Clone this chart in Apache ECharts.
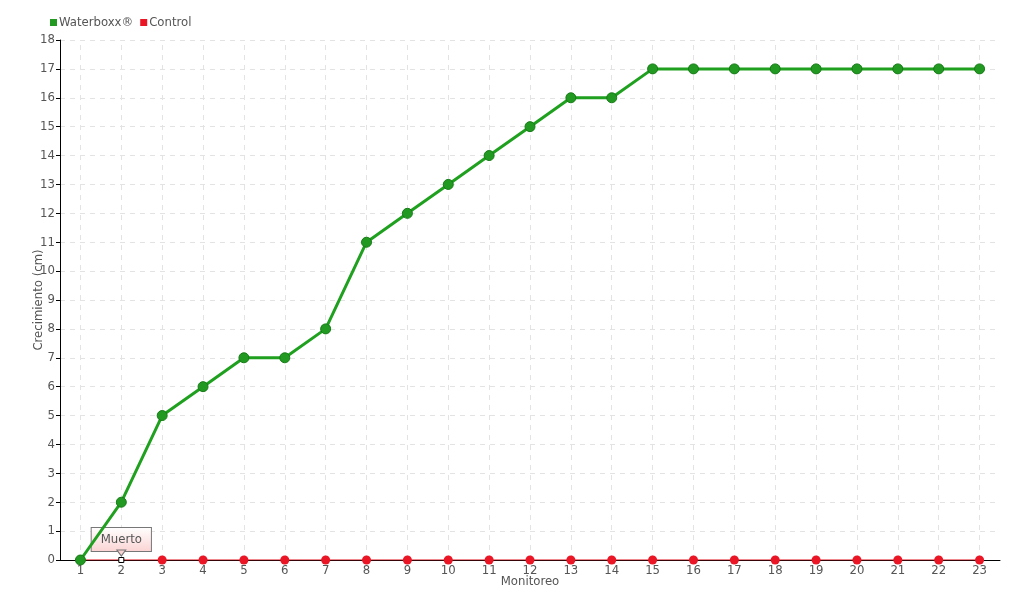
<!DOCTYPE html>
<html><head><meta charset="utf-8">
<script src="https://cdn.jsdelivr.net/npm/echarts@6/dist/echarts.min.js"></script>
<style>html,body{margin:0;padding:0;background:#fff}#c{width:1020px;height:600px}</style>
</head><body><div id="c"></div>
<script>
const categories = ['1','2','3','4','5','6','7','8','9','10','11','12','13','14','15','16','17','18','19','20','21','22','23'];
const waterboxx = [0,2,5,6,7,7,8,11,12,13,14,15,16,16,17,17,17,17,17,17,17,17,17];
const control = [0,0,0,0,0,0,0,0,0,0,0,0,0,0,0,0,0,0,0,0,0,0,0];
const annotationIndex = 1;
const annotationText = 'Muerto';

const FONT = 'DejaVu Sans Condensed';
const TXT = '#555';
const chart = echarts.init(document.getElementById('c'), null, {renderer:'canvas'});
const controlData = control.map((v,i) => i === annotationIndex ? {
  value: v,
  symbol: 'rect', symbolSize: 5,
  itemStyle: {color:'#fff', borderColor:'#000', borderWidth:1},
  label: {
    show: true, position: 'top', distance: 6, formatter: annotationText,
    fontFamily: FONT, fontSize: 13, color: '#555',
    backgroundColor: new echarts.graphic.LinearGradient(0,0,0,1,[{offset:0,color:'#ffffff'},{offset:1,color:'#fbd3d3'}]),
    borderColor: '#777', borderWidth: 1, padding: [5,9,5,9]
  }
} : v);

chart.setOption({
  animation: false,
  textStyle: {fontFamily: FONT},
  legend: {
    data: ['Waterboxx®','Control'], left: 45, top: 11, itemWidth: 7, itemHeight: 7, itemGap: 7,
    icon: 'rect', itemStyle: {borderWidth: 0},
    textStyle: {fontFamily: FONT, fontSize: 13, color: TXT, padding:[0,0,0,-3]}
  },
  grid: {left: 60, right: 20, top: 40, bottom: 40},
  xAxis: {
    type: 'category', data: categories, boundaryGap: true,
    name: 'Monitoreo', nameLocation: 'middle', nameGap: 15, nameMoveOverlap: false,
    nameTextStyle: {fontFamily: FONT, fontSize: 13, color: TXT},
    axisLine: {lineStyle: {color:'#000', width:1}},
    axisTick: {show: true, alignWithLabel: true, length: 3, lineStyle:{color:'#000'}},
    axisLabel: {fontFamily: FONT, fontSize: 13, color: TXT, margin: 4, interval: 0},
    splitLine: {show: false}
  },
  yAxis: {
    type: 'value', min: 0, max: 18, interval: 1,
    name: 'Crecimiento (cm)', nameLocation: 'middle', nameGap: 15, nameMoveOverlap: false,
    nameTextStyle: {fontFamily: FONT, fontSize: 13, color: TXT},
    axisLine: {show: true, lineStyle: {color:'#000', width:1}},
    axisTick: {show: true, length: 4, lineStyle:{color:'#000'}},
    axisLabel: {fontFamily: FONT, fontSize: 13, color: TXT, margin: 5},
    splitLine: {show: true, lineStyle: {color:'#e3e3e3', type:[5,5]}}
  },
  series: [
    {
      name: 'grid', type: 'line', data: [], silent: true, z: 0,
      markLine: {
        silent: true, z: 0, symbol: ['none','none'], label: {show:false},
        lineStyle: {color:'#e3e3e3', type:[5,5], width:1},
        data: categories.map(c => ({xAxis: c}))
      }
    },
    {
      name: 'Waterboxx®', type: 'line', data: waterboxx, z: 3,
      color: '#1fa01f',
      lineStyle: {color:'#1fa01f', width: 3},
      symbol: 'circle', symbolSize: 10,
      itemStyle: {color:'#229a22', borderColor:'#157a15', borderWidth: 1}
    },
    {
      name: 'Control', type: 'line', data: controlData, z: 2,
      color: '#e8101e',
      lineStyle: {color:'#e0101c', width: 1.2},
      symbol: 'circle', symbolSize: 9,
      itemStyle: {color:'#ea1525', borderColor:'#ea1525', borderWidth: 0},
      markPoint: {
        silent: true, z: 10,
        data: [{coord: [categories[annotationIndex], control[annotationIndex]]}],
        symbol: 'triangle', symbolRotate: 180, symbolSize: [9, 6], symbolOffset: [0, -7],
        itemStyle: {color:'#fbd3d3', borderColor:'#777', borderWidth: 1},
        label: {show: false}
      }
    }
  ]
});
</script></body></html>
